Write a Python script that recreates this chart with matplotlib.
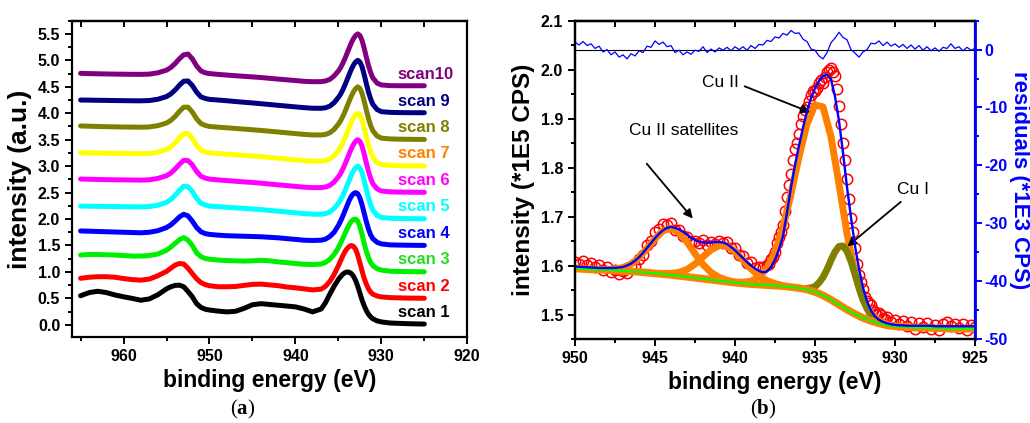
import numpy as np
import matplotlib.pyplot as plt
from matplotlib.ticker import MultipleLocator

plt.rcParams['font.family'] = ['Liberation Sans', 'DejaVu Sans']
plt.rcParams['font.weight'] = 'bold'
plt.rcParams['axes.labelweight'] = 'bold'
plt.rcParams['axes.unicode_minus'] = False
plt.rcParams['mathtext.fontset'] = 'custom'
plt.rcParams['mathtext.rm'] = 'Liberation Serif'
plt.rcParams['mathtext.bf'] = 'Liberation Serif:bold'

# ---------------- (a) Cu 2p survey, normalised scans ----------------
energy_a = [965, 964, 963, 962, 961, 960, 959, 958, 957, 956,
            955, 954.5, 954, 953.5, 953, 952.5, 952, 951.5, 951, 950.5, 950,
            949, 948, 947, 946, 945, 944, 943, 942, 941, 940, 939, 938, 937,
            936.5, 936, 935.5, 935,
            934.75, 934.5, 934.25, 934, 933.75, 933.5, 933.25, 933,
            932.75, 932.5, 932.25, 932, 931.75, 931.5, 931.25, 931,
            930.5, 930, 929, 928, 927, 926, 925]

scan1 = [0.55, 0.61, 0.635, 0.61, 0.565, 0.53, 0.50, 0.465, 0.49, 0.57,
         0.68, 0.72, 0.745, 0.75, 0.72, 0.63, 0.53, 0.40, 0.33, 0.295, 0.28,
         0.26, 0.245, 0.255, 0.31, 0.38, 0.40, 0.385, 0.37, 0.355, 0.34, 0.30, 0.245, 0.30,
         0.42, 0.58, 0.73, 0.86,
         0.91, 0.955, 0.985, 1.0, 0.995, 0.97, 0.92, 0.84,
         0.73, 0.60, 0.47, 0.36, 0.27, 0.20, 0.15, 0.115,
         0.075, 0.055, 0.035, 0.028, 0.022, 0.018, 0.015]
scan2 = [0.38, 0.40, 0.41, 0.41, 0.40, 0.375, 0.355, 0.345, 0.365, 0.43,
         0.51, 0.57, 0.63, 0.66, 0.65, 0.57, 0.47, 0.37, 0.30, 0.26, 0.24,
         0.22, 0.22, 0.225, 0.245, 0.265, 0.27, 0.255, 0.24, 0.215, 0.20, 0.18, 0.16, 0.175,
         0.23, 0.32, 0.45, 0.62,
         0.71, 0.80, 0.88, 0.94, 0.98, 1.0, 0.985, 0.93,
         0.82, 0.67, 0.52, 0.38, 0.27, 0.18, 0.12, 0.08,
         0.045, 0.028, 0.015, 0.01, 0.006, 0.004, 0.002]
scan3 = [0.32, 0.33, 0.33, 0.325, 0.32, 0.31, 0.30, 0.30, 0.31, 0.34,
         0.41, 0.47, 0.54, 0.61, 0.65, 0.60, 0.50, 0.36, 0.29, 0.255, 0.24,
         0.225, 0.215, 0.21, 0.205, 0.21, 0.22, 0.21, 0.19, 0.175, 0.16, 0.145, 0.14, 0.15,
         0.18, 0.24, 0.33, 0.46,
         0.54, 0.63, 0.72, 0.81, 0.89, 0.955, 0.99, 1.0,
         0.96, 0.86, 0.71, 0.54, 0.39, 0.27, 0.18, 0.12,
         0.06, 0.035, 0.015, 0.01, 0.006, 0.004, 0.002]
scan4 = [0.275, 0.27, 0.265, 0.26, 0.255, 0.25, 0.245, 0.24, 0.25, 0.28,
         0.34, 0.39, 0.46, 0.54, 0.59, 0.56, 0.46, 0.34, 0.26, 0.225, 0.21,
         0.195, 0.185, 0.18, 0.175, 0.17, 0.165, 0.155, 0.145, 0.13, 0.115, 0.10, 0.095, 0.10,
         0.12, 0.17, 0.25, 0.38,
         0.46, 0.55, 0.65, 0.75, 0.85, 0.93, 0.98, 1.0,
         0.98, 0.90, 0.77, 0.61, 0.45, 0.31, 0.20, 0.13,
         0.06, 0.03, 0.012, 0.008, 0.005, 0.003, 0.002]
scan5 = [0.245, 0.243, 0.24, 0.238, 0.236, 0.234, 0.232, 0.23, 0.236, 0.262,
         0.315, 0.37, 0.45, 0.54, 0.62, 0.61, 0.52, 0.39, 0.30, 0.265, 0.245,
         0.235, 0.222, 0.212, 0.202, 0.19, 0.178, 0.163, 0.148, 0.133, 0.118, 0.103, 0.092, 0.092,
         0.103, 0.133, 0.20, 0.30,
         0.36, 0.44, 0.53, 0.63, 0.73, 0.83, 0.91, 0.97,
         1.0, 0.97, 0.88, 0.73, 0.56, 0.40, 0.27, 0.17,
         0.07, 0.03, 0.015, 0.01, 0.008, 0.006, 0.005]
scan6 = [0.257, 0.252, 0.248, 0.245, 0.242, 0.24, 0.238, 0.236, 0.242, 0.268,
         0.32, 0.37, 0.445, 0.535, 0.61, 0.605, 0.525, 0.40, 0.31, 0.275, 0.255,
         0.24, 0.228, 0.215, 0.203, 0.192, 0.178, 0.162, 0.147, 0.132, 0.117, 0.102, 0.094, 0.095,
         0.106, 0.136, 0.20, 0.30,
         0.36, 0.44, 0.53, 0.63, 0.73, 0.83, 0.91, 0.97,
         1.0, 0.97, 0.88, 0.73, 0.56, 0.40, 0.27, 0.17,
         0.07, 0.03, 0.015, 0.01, 0.008, 0.006, 0.005]
scan7 = [0.255, 0.25, 0.247, 0.244, 0.241, 0.239, 0.237, 0.235, 0.24, 0.266,
         0.315, 0.365, 0.44, 0.535, 0.615, 0.615, 0.525, 0.395, 0.305, 0.27, 0.25,
         0.238, 0.226, 0.215, 0.204, 0.193, 0.18, 0.165, 0.15, 0.134, 0.118, 0.103, 0.095, 0.095,
         0.105, 0.135, 0.20, 0.30,
         0.36, 0.44, 0.53, 0.63, 0.73, 0.83, 0.91, 0.97,
         1.0, 0.97, 0.88, 0.73, 0.56, 0.40, 0.27, 0.17,
         0.07, 0.03, 0.015, 0.01, 0.008, 0.006, 0.005]
scan8 = [0.26, 0.255, 0.25, 0.246, 0.243, 0.24, 0.238, 0.236, 0.241, 0.266,
         0.315, 0.365, 0.44, 0.535, 0.615, 0.615, 0.525, 0.395, 0.305, 0.27, 0.25,
         0.237, 0.225, 0.213, 0.2, 0.188, 0.175, 0.16, 0.145, 0.13, 0.115, 0.1, 0.09, 0.09,
         0.1, 0.13, 0.195, 0.295,
         0.355, 0.435, 0.525, 0.625, 0.725, 0.825, 0.905, 0.965,
         1.0, 0.97, 0.88, 0.73, 0.56, 0.40, 0.27, 0.17,
         0.07, 0.03, 0.015, 0.01, 0.008, 0.006, 0.005]
scan9 = [0.25, 0.248, 0.245, 0.243, 0.24, 0.238, 0.236, 0.235, 0.24, 0.265,
         0.315, 0.365, 0.44, 0.53, 0.605, 0.61, 0.525, 0.40, 0.31, 0.28, 0.262,
         0.25, 0.237, 0.222, 0.208, 0.195, 0.18, 0.165, 0.15, 0.135, 0.12, 0.106, 0.095, 0.094,
         0.104, 0.134, 0.20, 0.30,
         0.36, 0.44, 0.53, 0.63, 0.73, 0.83, 0.91, 0.97,
         1.0, 0.97, 0.88, 0.73, 0.56, 0.40, 0.27, 0.17,
         0.07, 0.03, 0.017, 0.013, 0.011, 0.01, 0.01]
scan10 = [0.255, 0.25, 0.246, 0.243, 0.24, 0.238, 0.236, 0.235, 0.24, 0.265,
          0.315, 0.365, 0.44, 0.53, 0.605, 0.62, 0.53, 0.395, 0.30, 0.265, 0.25,
          0.235, 0.222, 0.21, 0.198, 0.187, 0.175, 0.16, 0.146, 0.132, 0.118, 0.104, 0.096, 0.098,
          0.11, 0.14, 0.205, 0.30,
          0.36, 0.44, 0.53, 0.63, 0.73, 0.83, 0.91, 0.97,
          1.0, 0.97, 0.88, 0.73, 0.56, 0.40, 0.27, 0.17,
          0.07, 0.035, 0.022, 0.02, 0.02, 0.02, 0.02]

scans = [scan1, scan2, scan3, scan4, scan5, scan6, scan7, scan8, scan9, scan10]
scan_offsets = [0.0, 0.5, 1.0, 1.5, 2.0, 2.5, 3.0, 3.5, 4.0, 4.5]
scan_names = ['scan 1', 'scan 2', 'scan 3', 'scan 4', 'scan 5',
              'scan 6', 'scan 7', 'scan 8', 'scan 9', 'scan10']
line_colors = ['#000000', '#ff0000', '#00ee00', '#0000ff', '#00ffff',
               '#ff00ff', '#ffff00', '#808000', '#000080', '#800080']
text_colors = ['#000000', '#ff0000', '#22dd22', '#0000ff', '#00ffff',
               '#ff00ff', '#ff8000', '#808000', '#000080', '#800080']

# ---------------- (b) Cu 2p3/2 peak fit ----------------
# measured points: 0.25 eV steps, 0.125 eV across the main line
energy_counts = np.concatenate([np.arange(950, 938.1, -0.25),
                                np.arange(938, 930.45, -0.125),
                                np.arange(930.25, 924.99, -0.25)])
counts = [1.608, 1.604, 1.610, 1.601, 1.606, 1.598, 1.601, 1.590, 1.596, 1.586,
          1.591, 1.583, 1.588, 1.584, 1.597, 1.600, 1.614, 1.621, 1.641, 1.650,
          1.668, 1.674, 1.684, 1.682, 1.687, 1.672, 1.672, 1.661, 1.659, 1.649,
          1.650, 1.646, 1.652, 1.642, 1.648, 1.643, 1.651, 1.646, 1.648, 1.635,
          1.636, 1.622, 1.620, 1.605, 1.607, 1.594, 1.598, 1.597,
          1.601, 1.604, 1.613, 1.618, 1.628, 1.645, 1.658, 1.668, 1.682, 1.712,
          1.740, 1.765, 1.786, 1.815, 1.838, 1.851, 1.868, 1.889, 1.906, 1.918,
          1.924, 1.935, 1.949, 1.957, 1.956, 1.962, 1.972, 1.978, 1.973, 1.985,
          1.995, 2.000, 2.004, 1.996, 1.988, 1.960, 1.925, 1.890, 1.850, 1.815,
          1.777, 1.735, 1.697, 1.668, 1.635, 1.603, 1.580, 1.566, 1.552, 1.536,
          1.527, 1.524, 1.519, 1.510, 1.506, 1.500, 1.504, 1.498, 1.491, 1.490,
          1.495,
          1.484, 1.489, 1.480, 1.487, 1.476, 1.485, 1.470, 1.483, 1.474, 1.482,
          1.471, 1.479, 1.468, 1.481, 1.484, 1.476, 1.481, 1.472, 1.480, 1.469,
          1.478, 1.474]

energy_fit = np.arange(950, 924.99, -0.25)
envelope = [1.598, 1.5975, 1.597, 1.5965, 1.596, 1.5955, 1.595, 1.595, 1.595, 1.595,
            1.595, 1.596, 1.597, 1.600, 1.604, 1.610, 1.617, 1.626, 1.636, 1.646,
            1.656, 1.665, 1.672, 1.677, 1.679, 1.677, 1.674, 1.669, 1.663, 1.657,
            1.652, 1.649, 1.647, 1.647, 1.647, 1.648, 1.648, 1.647, 1.644, 1.638,
            1.631, 1.623, 1.615, 1.607, 1.600, 1.594, 1.589, 1.586, 1.588, 1.597,
            1.612, 1.633, 1.660, 1.708, 1.760, 1.805, 1.845, 1.882, 1.915, 1.942,
            1.962, 1.977, 1.987, 1.990, 1.980, 1.945, 1.895, 1.830, 1.760, 1.698,
            1.640, 1.593, 1.555, 1.527, 1.508, 1.496, 1.489, 1.485, 1.482, 1.480,
            1.479, 1.478, 1.478, 1.477, 1.477, 1.477, 1.477, 1.477, 1.477, 1.477,
            1.476, 1.476, 1.476, 1.476, 1.476, 1.476, 1.476, 1.476, 1.476, 1.476,
            1.476]
residual = [1.3, 0.8, 1.4, 0.7, 1.0, 0.2, 0.6, -0.4, 0.0, -0.9,
            -0.4, -1.3, -0.9, -1.6, -0.7, -1.1, -0.2, -0.5, 0.6, 0.4,
            1.5, 0.9, 1.3, 0.5, 0.7, -0.5, -0.1, -0.9, -0.4, -0.8,
            -0.1, -0.3, 0.5, -0.5, 0.1, -0.4, 0.3, -0.1, 0.4, -0.2,
            0.5, 0.0, 0.5, -0.1, 0.7, 0.2, 0.9, 0.8, 1.6, 1.4,
            2.2, 2.0, 2.8, 2.5, 3.3, 2.8, 2.9, 1.8, 1.4, 0.1,
            -0.1, -1.1, -1.6, -0.5, 1.2, 2.0, 3.0, 2.1, 1.7, 0.0,
            -0.6, -1.3, -0.4, 0.0, 1.1, 1.0, 1.5, 0.7, 1.3, 0.6,
            1.0, 0.4, 0.9, 0.2, 0.8, 0.1, 0.7, -0.1, 0.5, -0.2,
            0.3, -0.3, 0.4, 0.2, 1.0, 0.2, 0.5, -0.2, 0.4, -0.1,
            0.2]

energy_bg = np.arange(950, 924.99, -0.5)
background = [1.594, 1.593, 1.592, 1.5915, 1.591, 1.590, 1.589, 1.588, 1.587, 1.5855,
              1.584, 1.5825, 1.581, 1.579, 1.577, 1.575, 1.573, 1.571, 1.569, 1.567,
              1.565, 1.5635, 1.562, 1.561, 1.560, 1.559, 1.558, 1.556, 1.554, 1.551,
              1.546, 1.539, 1.530, 1.520, 1.510, 1.501, 1.493, 1.487, 1.482, 1.478,
              1.476, 1.475, 1.474, 1.473, 1.473, 1.472, 1.472, 1.471, 1.471, 1.471,
              1.471]

energy_sat1 = np.arange(948, 939.99, -0.5)
sat1 = [1.592, 1.593, 1.596, 1.603, 1.616, 1.635, 1.655, 1.671, 1.676,
        1.667, 1.648, 1.624, 1.602, 1.586, 1.576, 1.570, 1.566]
energy_sat2 = np.arange(944.5, 936.99, -0.5)
sat2 = [1.584, 1.584, 1.586, 1.592, 1.603, 1.618, 1.632, 1.641,
        1.640, 1.629, 1.611, 1.593, 1.579, 1.569, 1.563, 1.559]
energy_cu2 = np.arange(940, 929.99, -0.5)
cu2_main = [1.566, 1.566, 1.568, 1.577, 1.595, 1.627, 1.678, 1.746, 1.822, 1.889,
            1.928, 1.924, 1.863, 1.766, 1.665, 1.584, 1.531, 1.502, 1.487, 1.479,
            1.476]
energy_cu1 = np.arange(935.5, 930.99, -0.25)
cu1 = [1.553, 1.5545, 1.557, 1.565, 1.576, 1.592, 1.611, 1.628, 1.639, 1.640,
       1.629, 1.6085, 1.582, 1.554, 1.530, 1.512, 1.498, 1.490, 1.484]


def frame(ax):
    for s in ax.spines.values():
        s.set_linewidth(1.6)
    ax.tick_params(which='both', direction='out', width=1.4, labelsize=11.5)
    ax.tick_params(which='major', length=5)
    ax.tick_params(which='minor', length=3)


def top_ticks(ax, major, minor):
    top = ax.secondary_xaxis('top')
    top.xaxis.set_major_locator(MultipleLocator(major))
    top.xaxis.set_minor_locator(MultipleLocator(minor))
    top.tick_params(axis='x', which='both', direction='in', width=1.4,
                    length=4, labeltop=False)
    top.spines['top'].set_linewidth(1.6)


fig = plt.figure(figsize=(10.3, 4.23), dpi=100)
ax_a = fig.add_axes([0.0699, 0.2033, 0.3838, 0.7478])
ax_b = fig.add_axes([0.5583, 0.1986, 0.3883, 0.7525])

# panel (a)
for vals, off, lc, tc, name in zip(scans, scan_offsets, line_colors,
                                   text_colors, scan_names):
    ax_a.plot(energy_a, np.array(vals) + off, color=lc, lw=3.6,
              solid_capstyle='round', solid_joinstyle='round')
    ax_a.text(928.1, off + 0.23, name, color=tc, fontsize=12,
              fontweight='bold', ha='left', va='center')

ax_a.set_xlim(966, 920)
ax_a.set_ylim(-0.23, 5.75)
ax_a.xaxis.set_major_locator(MultipleLocator(10))
ax_a.xaxis.set_minor_locator(MultipleLocator(5))
ax_a.yaxis.set_major_locator(MultipleLocator(0.5))
ax_a.yaxis.set_minor_locator(MultipleLocator(0.25))
frame(ax_a)
top_ticks(ax_a, 10, 5)
ax_a.set_xlabel('binding energy (eV)', fontsize=16.5)
ax_a.set_ylabel('intensity (a.u.)', fontsize=19)

# panel (b)
ax_b.plot(energy_counts, counts, 'o', mfc='none', mec='#ff0000', ms=7.5,
          mew=1.1, zorder=2)
ax_b.plot(energy_sat1, sat1, color='#ff8000', lw=5, zorder=3)
ax_b.plot(energy_sat2, sat2, color='#ff8000', lw=5, zorder=3)
ax_b.plot(energy_cu2, cu2_main, color='#ff8000', lw=5, zorder=3)
ax_b.plot(energy_cu1, cu1, color='#808000', lw=5, zorder=3.2)
ax_b.plot(energy_bg, background, color='#ff8000', lw=5.5, zorder=3.3)
ax_b.plot(energy_bg, background, color='#00ff00', lw=1.6, zorder=4)
ax_b.plot(energy_fit, envelope, color='#0000ff', lw=1.7, zorder=5)

ax_b.set_xlim(950, 925)
ax_b.set_ylim(1.45, 2.1)
ax_b.xaxis.set_major_locator(MultipleLocator(5))
ax_b.xaxis.set_minor_locator(MultipleLocator(2.5))
ax_b.yaxis.set_major_locator(MultipleLocator(0.1))
ax_b.yaxis.set_minor_locator(MultipleLocator(0.05))
frame(ax_b)
ax_b.tick_params(axis='y', right=False)
top_ticks(ax_b, 5, 2.5)
ax_b.set_xlabel('binding energy (eV)', fontsize=16.5)
ax_b.set_ylabel('intensity (*1E5 CPS)', fontsize=17.5)

arrow = dict(arrowstyle='-|>', color='black', lw=1.3, mutation_scale=13,
             shrinkA=0, shrinkB=0)
ax_b.text(940.94, 1.973, 'Cu II', fontsize=12.5, fontweight='normal',
          ha='center', va='center')
ax_b.annotate('', xy=(935.3, 1.913), xytext=(939.4, 1.966), arrowprops=arrow)
ax_b.text(943.19, 1.876, 'Cu II satellites', fontsize=12.5,
          fontweight='normal', ha='center', va='center')
ax_b.annotate('', xy=(942.64, 1.696), xytext=(945.52, 1.808), arrowprops=arrow)
ax_b.text(928.9, 1.756, 'Cu I', fontsize=12.5, fontweight='normal',
          ha='center', va='center')
ax_b.annotate('', xy=(932.98, 1.639), xytext=(929.64, 1.730), arrowprops=arrow)

# residuals on the right-hand axis
ax_r = ax_b.twinx()
ax_r.axhline(0, color='black', lw=0.8, zorder=1)
ax_r.plot(energy_fit, residual, color='#0000ff', lw=0.9, zorder=2)
ax_r.set_ylim(-50, 5)
ax_r.yaxis.set_major_locator(MultipleLocator(10))
ax_r.yaxis.set_minor_locator(MultipleLocator(5))
for s in ax_r.spines.values():
    s.set_linewidth(1.6)
ax_r.spines['right'].set_color('#0000ff')
ax_r.spines['right'].set_linewidth(2)
ax_r.tick_params(axis='y', which='both', direction='out', width=1.4,
                 labelsize=11.5, colors='#0000ff', pad=2)
ax_r.tick_params(axis='y', which='major', length=5)
ax_r.tick_params(axis='y', which='minor', length=3)
fig.text(0.9895, 0.575, 'residuals (*1E3 CPS)', fontsize=16,
         fontweight='bold', color='#0000ff', rotation=270,
         ha='center', va='center')

# panel captions
fig.text(0.236, 0.031, r'($\mathbf{a}$)', family='Liberation Serif',
         fontweight='normal', fontsize=15, ha='center', va='center')
fig.text(0.741, 0.031, r'($\mathbf{b}$)', family='Liberation Serif',
         fontweight='normal', fontsize=15, ha='center', va='center')

fig.savefig('out.png', dpi=100)
